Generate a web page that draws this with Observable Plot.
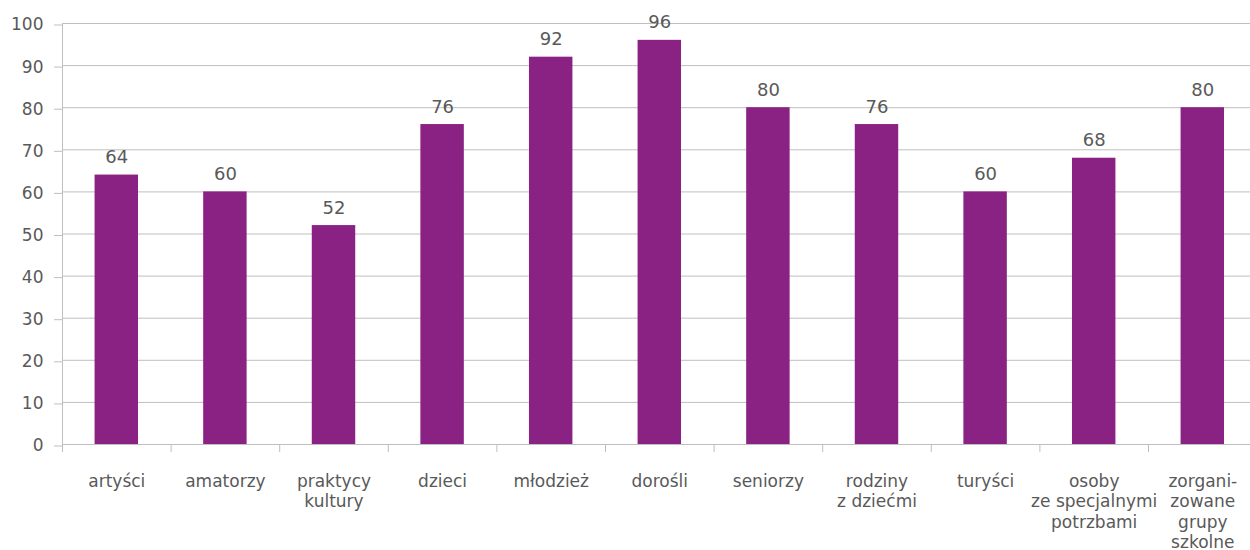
<!DOCTYPE html>
<html><head><meta charset="utf-8">
<script src="https://cdn.jsdelivr.net/npm/d3@7"></script>
<script src="https://cdn.jsdelivr.net/npm/@observablehq/plot@0.6"></script>
<style>html,body{margin:0;padding:0;background:#fff;overflow:hidden}</style>
</head><body><div id="chart"></div>
<script>
const categories = ["artyści", "amatorzy", "praktycy\nkultury", "dzieci", "młodzież", "dorośli", "seniorzy", "rodziny\nz dziećmi", "turyści", "osoby\nze specjalnymi\npotrzbami", "zorgani-\nzowane\ngrupy\nszkolne"];
const values = [64, 60, 52, 76, 92, 96, 80, 76, 60, 68, 80];
const yTicks = [0, 10, 20, 30, 40, 50, 60, 70, 80, 90, 100];

const data = categories.map((c, i) => ({category: c, value: values[i]}));
const xRange = [62, 1256.6];
const step = (xRange[1] - xRange[0]) / categories.length;
const grid = "#BFBFBF";
const txt = "#595959";

const chart = Plot.plot({
  width: 1250, height: 550,
  marginLeft: 62, marginRight: 0, marginTop: 23, marginBottom: 106,
  style: {fontFamily: "'DejaVu Sans', Verdana, sans-serif", fontSize: "17px", color: txt, background: "#fff", overflow: "visible"},
  x: {domain: categories, range: xRange, paddingInner: 0.6, paddingOuter: 0.3, round: false},
  y: {domain: [0, 100]},
  marks: [
    Plot.ruleY(yTicks, {stroke: grid, strokeWidth: 1}),
    Plot.ruleX([categories[0]], {x: d => d, y1: 0, y2: 100, dx: -step / 2, stroke: grid}),
    Plot.axisY({ticks: yTicks, tickSize: 8, tickPadding: 11, stroke: grid, fill: txt, fontSize: 17, dy: 1.5, label: null}),
    Plot.axisX({tickSize: 8, tickFormat: () => "", dx: -step / 2, stroke: grid, label: null}),
    Plot.axisX({tickSize: 0, tickPadding: 28, fill: txt, fontSize: 17, lineHeight: 1.2, label: null}),
    Plot.barY(data, {x: "category", y: "value", fill: "#8A2283"}),
    Plot.text(data, {x: "category", y: "value", text: d => String(d.value), dy: -12, lineAnchor: "bottom", fontSize: 18, fill: txt})
  ]
});
document.getElementById("chart").append(chart);
</script>
</body></html>
